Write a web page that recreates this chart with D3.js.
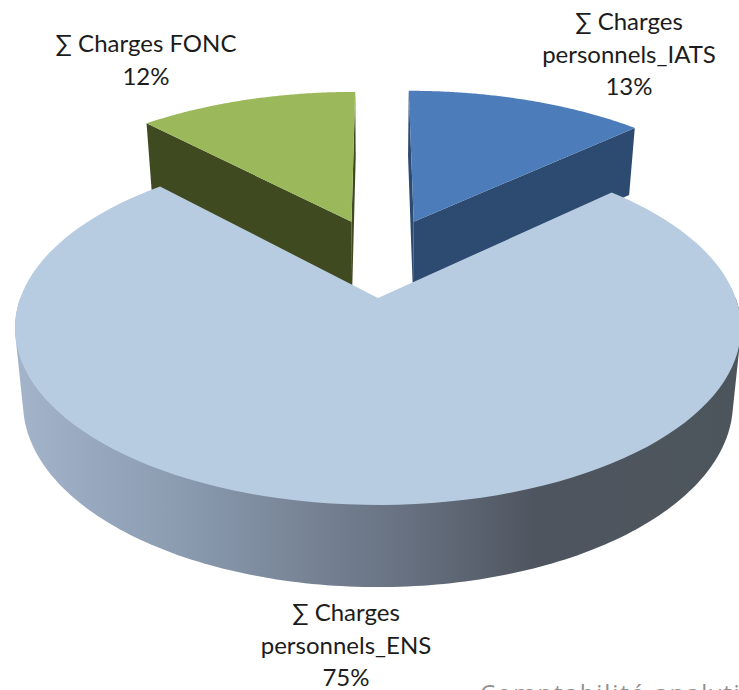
<!DOCTYPE html>
<html><head><meta charset="utf-8">
<script src="https://cdnjs.cloudflare.com/ajax/libs/d3/7.8.5/d3.min.js"></script>
<style>html,body{margin:0;padding:0;background:#fff;overflow:hidden}svg{display:block}</style>
</head><body><svg id="c" width="739" height="690"></svg>
<script>
const categories = ["∑ Charges personnels_IATS", "∑ Charges personnels_ENS", "∑ Charges FONC"];
const seriesValues = [13, 75, 12];
const percentLabels = ["13%", "75%", "12%"];
const labelLines = [["∑ Charges", "personnels_IATS"], ["∑ Charges", "personnels_ENS"], ["∑ Charges FONC"]];
const topColors = ["#4c7dba", "#b8cce1", "#9bb95a"];
const wallColors = ["#2d4a70", "#4d555c", "#3f4a20"];

const svg = d3.select("#c");
const cx = 378, cy = 298, A = 357.7, B = 171.9, k = 0.1695;
const project = (u, v) => { const w = 1 + k * v; return [cx + A * u / w, cy - B * v / w]; };
const lower = ([x, y]) => [cx + (x - cx) * 0.978, y + 67 + (y - 128) * 0.04];
const offsets = [[0.108, 0.48, 1.035], [0, 0, 1], [-0.08, 0.48, 1.025]];
const labelPos = [[629, 22], [346, 613], [146, 44]];

const arcs = d3.pie().sort(null).value(d => d)(seriesValues);
const rimAt = (t, i) => {
  const [du, dv, r] = offsets[i];
  return project(du + r * Math.sin(t), dv + r * Math.cos(t));
};
const rim = (a, i) => d3.range(0, 121).map(j => rimAt(a.startAngle + (a.endAngle - a.startAngle) * j / 120, i));
const apex = i => project(offsets[i][0], offsets[i][1]);
const line = d3.line();

const defs = svg.append("defs");
const g = defs.append("linearGradient").attr("id", "wall").attr("gradientUnits", "userSpaceOnUse")
  .attr("x1", 15).attr("x2", 739).attr("y1", 0).attr("y2", 0);
[[0, "#a3b4cb"], [0.2, "#8e9fb4"], [0.4, "#778496"], [0.58, "#626b7a"], [0.72, "#4e555f"], [1, "#4d555c"]]
  .forEach(([o, c]) => g.append("stop").attr("offset", o).attr("stop-color", c));

// back slices: walls then tops
[0, 2].forEach(i => {
  const R = rim(arcs[i], i), P = apex(i);
  const outerEnd = i === 0 ? R[R.length - 1] : R[0];
  const innerEnd = i === 0 ? R[0] : R[R.length - 1];
  svg.append("path").attr("d", line([P, outerEnd, lower(outerEnd), lower(P)]) + "Z").attr("fill", wallColors[i]);
  svg.append("path").attr("d", line([P, lower(P), lower(innerEnd), innerEnd]) + "Z").attr("fill", wallColors[i]);
  svg.append("path").attr("d", line([P, ...R]) + "Z").attr("fill", topColors[i]);
});
// big slice: wall is the hull of the near half of the rim and its lower copy
{
  const R = rim(arcs[1], 1), P = apex(1);
  const near = d3.range(0, 181).map(j => rimAt(Math.PI / 2 + Math.PI * j / 180, 1));
  const hull = d3.polygonHull([...near, ...near.map(lower)]);
  svg.append("path").attr("d", line(hull) + "Z").attr("fill", "url(#wall)");
  svg.append("path").attr("d", line([P, ...R]) + "Z").attr("fill", topColors[1]);
}
labelLines.forEach((ls, i) => {
  const t = svg.append("text").attr("text-anchor", "middle").attr("font-family", "Lato")
    .attr("font-size", 24).attr("fill", "#1c1c1c");
  [...ls, percentLabels[i]].forEach((s, j) => {
    t.append("tspan").attr("x", labelPos[i][0]).attr("y", labelPos[i][1] + 8 + j * 32.5).text(s);
  });
});
svg.append("text").attr("x", 480).attr("y", 702).attr("font-family", "'Open Sans'").attr("font-size", 24)
  .attr("letter-spacing", 1.9).attr("fill", "#909090").text("Comptabilité analytique");
</script></body></html>
